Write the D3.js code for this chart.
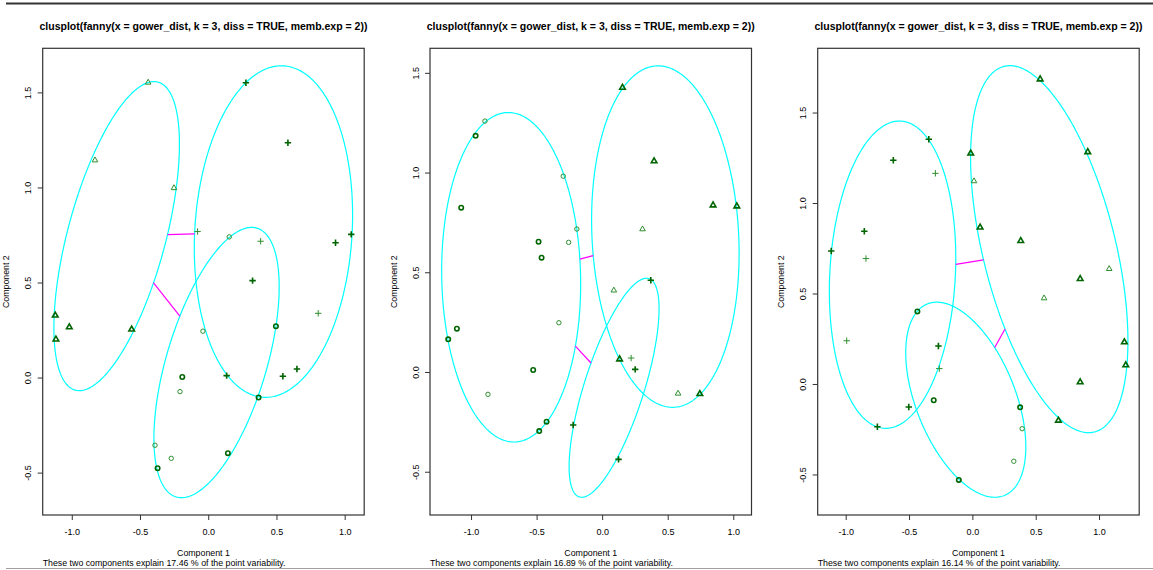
<!DOCTYPE html>
<html>
<head>
<meta charset="utf-8">
<script src="https://cdn.jsdelivr.net/npm/d3@7"></script>
<style>
  body { margin: 0; background: #fff; }
  svg { display: block; }
  text { font-family: "Liberation Sans", Arial, Helvetica, sans-serif; fill: #000; }
</style>
</head>
<body>
<svg id="chart" width="1153" height="570"></svg>
<script>
// ---- data -------------------------------------------------------------
const titleText = "clusplot(fanny(x = gower_dist, k = 3, diss = TRUE, memb.exp = 2))";
const xLabel = "Component 1";
const yLabel = "Component 2";
const xTicks = [-1, -0.5, 0, 0.5, 1];
const yTicks = [-0.5, 0, 0.5, 1, 1.5];
const explained = [17.46, 16.89, 16.14];

// axis limits of each run
const xLimits = [[-1.213, 1.143], [-1.313, 1.139], [-1.221, 1.317]];
const yLimits = [[-0.723, 1.732], [-0.717, 1.623], [-0.724, 1.855]];

// observations: [component 1, component 2, cluster (1 circle, 2 triangle, 3 plus), strong membership]
const run1Points = [
  [-0.44, 1.553, 2, 0], [-0.83, 1.144, 2, 0], [-0.251, 0.998, 2, 0], [-1.121, 0.328, 2, 1],
  [-1.018, 0.266, 2, 1], [-1.116, 0.202, 2, 1], [-0.561, 0.254, 2, 1],
  [0.276, 1.551, 3, 1], [0.584, 1.235, 3, 1], [-0.078, 0.768, 3, 0], [0.384, 0.717, 3, 0],
  [0.933, 0.709, 3, 1], [1.048, 0.753, 3, 1], [0.325, 0.51, 3, 1], [0.806, 0.338, 3, 0],
  [0.135, 0.01, 3, 1], [0.547, 0.007, 3, 1], [0.65, 0.045, 3, 1],
  [0.154, 0.74, 1, 0], [-0.039, 0.244, 1, 0], [0.496, 0.27, 1, 1], [-0.19, 0.003, 1, 1],
  [-0.207, -0.074, 1, 0], [0.369, -0.105, 1, 1], [-0.39, -0.356, 1, 0], [-0.271, -0.425, 1, 0],
  [-0.371, -0.477, 1, 1], [0.144, -0.398, 1, 1]
];
const run2Points = [
  [-0.894, 1.258, 1, 0], [-0.965, 1.184, 1, 1], [-0.297, 0.982, 1, 0], [-1.075, 0.824, 1, 1],
  [-0.193, 0.717, 1, 0], [-0.485, 0.653, 1, 1], [-0.256, 0.65, 1, 0], [-0.462, 0.573, 1, 1],
  [-0.33, 0.247, 1, 0], [-1.108, 0.217, 1, 1], [-1.174, 0.164, 1, 1], [-0.526, 0.01, 1, 1],
  [-0.871, -0.112, 1, 0], [-0.424, -0.249, 1, 1], [-0.48, -0.296, 1, 1],
  [0.155, 1.427, 2, 1], [0.396, 1.058, 2, 1], [0.846, 0.837, 2, 1], [1.027, 0.832, 2, 1],
  [0.308, 0.717, 2, 0], [0.089, 0.41, 2, 0], [0.133, 0.065, 2, 1], [0.579, -0.107, 2, 0],
  [0.745, -0.109, 2, 1],
  [0.371, 0.46, 3, 1], [0.221, 0.07, 3, 0], [0.252, 0.013, 3, 1], [-0.221, -0.266, 3, 1],
  [0.125, -0.438, 3, 1]
];
const run3Points = [
  [0.535, 1.685, 2, 1], [-0.013, 1.275, 2, 1], [0.911, 1.283, 2, 1], [0.013, 1.122, 2, 0],
  [0.061, 0.866, 2, 1], [0.382, 0.792, 2, 1], [1.08, 0.637, 2, 0], [0.851, 0.582, 2, 1],
  [0.566, 0.475, 2, 0], [1.2, 0.232, 2, 1], [1.211, 0.105, 2, 1], [0.851, 0.011, 2, 1],
  [0.679, -0.201, 2, 1],
  [-0.344, 1.352, 3, 1], [-0.624, 1.236, 3, 1], [-0.292, 1.164, 3, 0], [-0.853, 0.844, 3, 1],
  [-1.114, 0.735, 3, 1], [-0.84, 0.693, 3, 0], [-0.992, 0.239, 3, 0], [-0.268, 0.21, 3, 1],
  [-0.261, 0.085, 3, 0], [-0.502, -0.127, 3, 1], [-0.75, -0.236, 3, 1],
  [-0.434, 0.401, 1, 1], [-0.305, -0.09, 1, 1], [0.377, -0.129, 1, 1], [0.393, -0.247, 1, 0],
  [0.327, -0.427, 1, 0], [-0.107, -0.53, 1, 1]
];

// cluster ellipses, in cluster order: [centre x, centre y, half-width, half-height, correlation]
const run1Ellipses = [
  [0.061, 0.079, 0.459, 0.711, 0.56],
  [-0.671, 0.744, 0.46, 0.813, 0.594],
  [0.478, 0.768, 0.58, 0.872, 0.1]
];
const run2Ellipses = [
  [-0.694, 0.475, 0.53, 0.826, -0.04],
  [0.482, 0.679, 0.5625, 0.856, -0.098],
  [0.091, -0.079, 0.343, 0.549, 0.72]
];
const run3Ellipses = [
  [-0.052, -0.087, 0.474, 0.539, -0.483],
  [0.607, 0.745, 0.621, 1.014, -0.5],
  [-0.63, 0.604, 0.499, 0.849, 0.108]
];

const runs = [
  { points: run1Points, ellipses: run1Ellipses, xlim: xLimits[0], ylim: yLimits[0], pct: explained[0] },
  { points: run2Points, ellipses: run2Ellipses, xlim: xLimits[1], ylim: yLimits[1], pct: explained[1] },
  { points: run3Points, ellipses: run3Ellipses, xlim: xLimits[2], ylim: yLimits[2], pct: explained[2] }
];

// ---- layout -------------------------------------------------------------
const panelLeft = [42.7, 430, 817.7];
const panelWidth = 321.5;
const plotTop = 48.3, plotBottom = 515;

const svg = d3.select("#chart");

// page rules
svg.append("line").attr("x1", 6).attr("x2", 1153).attr("y1", 3.5).attr("y2", 3.5)
  .attr("stroke", "#333").attr("stroke-width", 2);
svg.append("line").attr("x1", 6).attr("x2", 1153).attr("y1", 568.5).attr("y2", 568.5)
  .attr("stroke", "#a0a0a0").attr("stroke-width", 1);

const fmt = d => d.toFixed(1);

// ellipse outline as a function of the angle parameter
function ellipsePoint(e, t) {
  const [cx, cy, sx, sy, r] = e;
  return [cx + sx * Math.cos(t), cy + sy * (r * Math.cos(t) + Math.sqrt(1 - r * r) * Math.sin(t))];
}
// distance from the centre to the boundary along unit direction (ux, uy)
function boundaryDistance(e, ux, uy) {
  const [, , sx, sy, r] = e;
  const z1 = ux / sx;
  const z2 = (uy - sy * r * z1) / (sy * Math.sqrt(1 - r * r));
  return 1 / Math.hypot(z1, z2);
}

// point symbols (R pch 1, 2, 3)
const triPath = "M0,-3.1L2.8,1.8L-2.8,1.8Z";
const plusPath = "M-3.2,0H3.2M0,-3.2V3.2";

runs.forEach((run, i) => {
  const left = panelLeft[i], right = left + panelWidth;
  const x = d3.scaleLinear().domain(run.xlim).range([left, right]);
  const y = d3.scaleLinear().domain(run.ylim).range([plotBottom, plotTop]);
  const g = svg.append("g");
  const cx = (left + right) / 2;

  // title
  g.append("text").attr("x", cx).attr("y", 30).attr("text-anchor", "middle")
    .attr("font-weight", "bold").attr("font-size", 10.5).text(titleText);

  // axes
  const xa = g.append("g").attr("transform", `translate(0,${plotBottom})`)
    .call(d3.axisBottom(x).tickValues(xTicks).tickFormat(fmt).tickSize(5).tickPadding(6));
  const ya = g.append("g").attr("transform", `translate(${left},0)`)
    .call(d3.axisLeft(y).tickValues(yTicks).tickFormat(fmt).tickSize(5).tickPadding(6));
  [xa, ya].forEach(a => {
    a.select(".domain").remove();
    a.selectAll(".tick line").attr("stroke", "#333");
    a.selectAll(".tick text").attr("font-size", 9).attr("fill", "#000")
      .attr("font-family", '"Liberation Sans", Arial, sans-serif');
  });
  xa.selectAll(".tick text").attr("dy", null).attr("y", 19.5);
  ya.selectAll(".tick text")
    .attr("x", null).attr("dy", null).attr("text-anchor", "middle")
    .attr("transform", "translate(-11.5,0) rotate(-90)");

  // plot frame
  g.append("rect").attr("x", left).attr("y", plotTop).attr("width", panelWidth)
    .attr("height", plotBottom - plotTop).attr("fill", "none").attr("stroke", "#333").attr("stroke-width", 1.2);

  // axis titles and subtitle
  g.append("text").attr("x", cx).attr("y", 555.5).attr("text-anchor", "middle")
    .attr("font-size", 8.8).text(xLabel);
  g.append("text").attr("transform", `translate(${left - 33.5},${(plotTop + plotBottom) / 2}) rotate(-90)`)
    .attr("text-anchor", "middle").attr("font-size", 8.8).text(yLabel);
  g.append("text").attr("x", left).attr("y", 565.5).attr("font-size", 8.8)
    .text(`These two components explain ${run.pct} % of the point variability.`);

  // cluster ellipses
  const line = d3.line().x(d => x(d[0])).y(d => y(d[1]));
  const ts = d3.range(0, 2 * Math.PI + 0.001, Math.PI / 180);
  run.ellipses.forEach(e => {
    g.append("path").attr("d", line(ts.map(t => ellipsePoint(e, t))) + "Z")
      .attr("fill", "none").attr("stroke", "#00ffff").attr("stroke-width", 1.2);
  });

  // segments between separated ellipses, along the line joining centres
  for (let a = 0; a < run.ellipses.length; a++) {
    for (let b = a + 1; b < run.ellipses.length; b++) {
      const ea = run.ellipses[a], eb = run.ellipses[b];
      const dx = eb[0] - ea[0], dy = eb[1] - ea[1];
      const dist = Math.hypot(dx, dy), ux = dx / dist, uy = dy / dist;
      const da = boundaryDistance(ea, ux, uy), db = boundaryDistance(eb, -ux, -uy);
      if (da + db < dist) {
        const p = [ea[0] + da * ux, ea[1] + da * uy];
        const q = [eb[0] - db * ux, eb[1] - db * uy];
        g.append("path").attr("d", line([p, q]))
          .attr("stroke", "#ff00ff").attr("stroke-width", 1.2).attr("fill", "none");
      }
    }
  }

  // observations
  const pts = g.append("g");
  run.points.forEach(d => {
    const px = x(d[0]), py = y(d[1]);
    const col = d[3] ? "#006400" : "#2f8f2f";
    const sw = d[3] ? 1.6 : 1;
    let el;
    if (d[2] === 1) el = pts.append("circle").attr("r", 2.2);
    else el = pts.append("path").attr("d", d[2] === 2 ? triPath : plusPath);
    el.attr("transform", d[2] === 1 ? null : `translate(${px},${py})`)
      .attr("cx", d[2] === 1 ? px : null).attr("cy", d[2] === 1 ? py : null)
      .attr("fill", "none").attr("stroke", col).attr("stroke-width", sw);
  });
});
</script>
</body>
</html>
